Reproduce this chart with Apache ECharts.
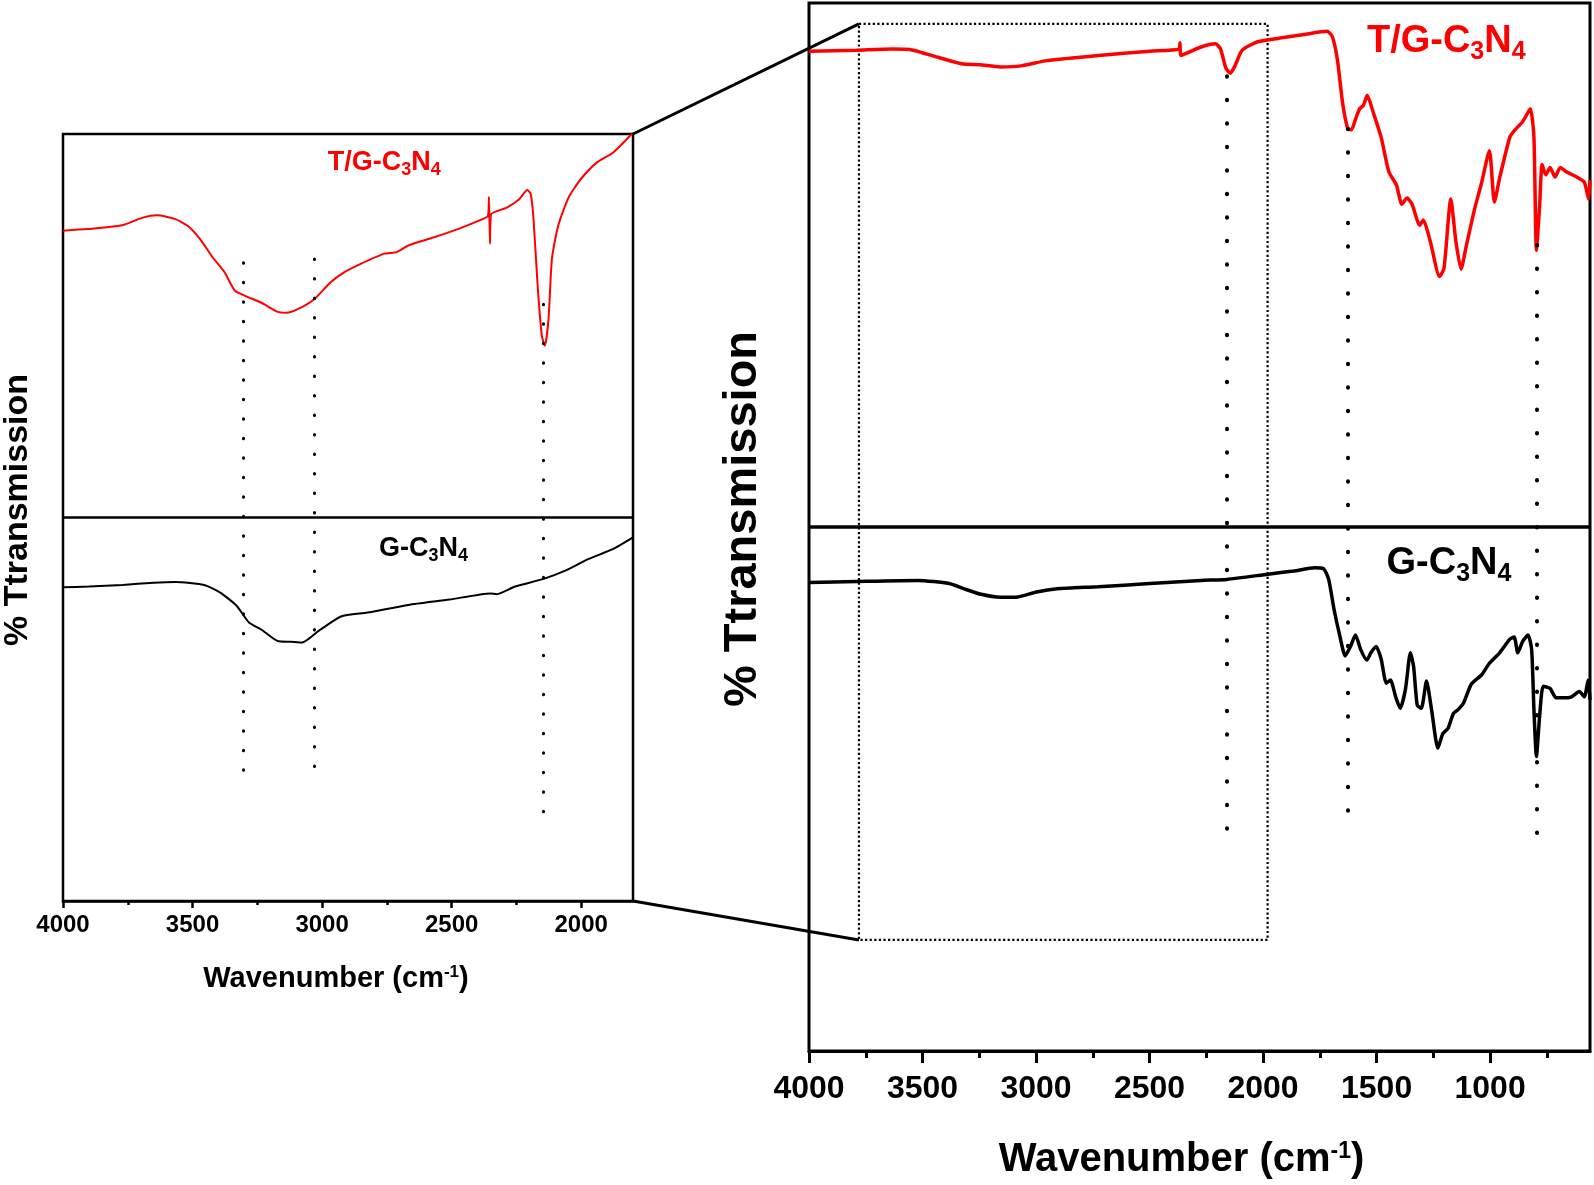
<!DOCTYPE html>
<html>
<head>
<meta charset="utf-8">
<script src="https://cdn.jsdelivr.net/npm/echarts@6/dist/echarts.min.js"></script>
<style>
  html, body { margin: 0; padding: 0; background: #fff; }
  #chart { width: 1594px; height: 1185px; }
</style>
</head>
<body>
<div id="chart"></div>
<script>
// axis ranges (cm-1)
const zoomRange = [1800, 4000]
const fullRange = [560, 4000]
const zoomTicks = [2000, 2500, 3000, 3500, 4000]
const zoomMinorTicks = [2250, 2750, 3250, 3750]
const fullTicks = [1000, 1500, 2000, 2500, 3000, 3500, 4000]
const fullMinorTicks = [750, 1250, 1750, 2250, 2750, 3250, 3750]

// left panel, T/G-C3N4 (upper half, arbitrary units)
const tgZoomWn = [4000, 3905, 3771, 3692, 3637, 3566, 3518, 3471, 3422, 3377, 3337, 3297, 3234, 3171, 3139, 3092, 3029, 2966, 2918, 2855, 2760, 2712, 2665, 2571, 2476, 2381, 2360, 2356, 2352, 2348, 2287, 2239, 2208, 2195, 2184, 2168, 2152, 2140, 2126, 2113, 2089, 2049, 2002, 1939, 1876, 1805]
const tgZoomT = [87.4, 87.6, 88.1, 89.1, 89.4, 88.9, 88.0, 86.3, 83.9, 82.0, 79.6, 78.9, 78.0, 76.8, 76.7, 77.2, 78.5, 80.7, 81.9, 83.0, 84.4, 84.6, 85.5, 86.5, 87.6, 88.9, 89.3, 91.8, 85.7, 89.5, 90.4, 91.5, 92.7, 92.2, 88.9, 80.2, 73.7, 72.4, 75.9, 83.7, 88.0, 91.7, 94.1, 96.3, 97.6, 100]

// left panel, G-C3N4 (lower half)
const gZoomWn = [4000, 3900, 3771, 3650, 3566, 3455, 3393, 3330, 3282, 3235, 3172, 3120, 3077, 3014, 2927, 2825, 2667, 2508, 2350, 2326, 2255, 2145, 2066, 1971, 1876, 1800]
const gZoomT = [40.9, 41.0, 41.2, 41.5, 41.6, 41.2, 40.2, 38.5, 36.3, 35.4, 33.9, 33.8, 33.7, 35.2, 37.1, 37.6, 38.6, 39.3, 40.1, 40.0, 41.0, 42.0, 43.0, 44.6, 45.9, 47.4]

// right panel, T/G-C3N4
const tgFullWn = [4000, 3791, 3633, 3542, 3429, 3327, 3247, 3157, 3066, 2953, 2726, 2499, 2370, 2366, 2362, 2273, 2209, 2187, 2164, 2144, 2124, 2092, 2024, 1910, 1819, 1718, 1695, 1672, 1650, 1627, 1611, 1593, 1575, 1559, 1541, 1514, 1480, 1446, 1412, 1389, 1366, 1344, 1310, 1294, 1264, 1223, 1203, 1173, 1151, 1128, 1106, 1071, 1037, 1003, 981, 958, 913, 890, 856, 823, 807, 796, 782, 771, 755, 736, 714, 691, 664, 619, 585, 566, 560]
const tgFullT = [95.4, 95.5, 95.6, 95.5, 94.8, 94.2, 94.1, 93.9, 94.0, 94.5, 95.0, 95.4, 95.6, 96.2, 95.0, 95.8, 96.1, 95.6, 93.8, 93.3, 94.0, 95.5, 96.3, 96.7, 97.0, 97.3, 96.8, 94.5, 90.5, 88.0, 87.9, 88.9, 89.9, 90.2, 91.2, 89.5, 87.2, 83.9, 82.6, 80.8, 81.4, 80.8, 78.8, 79.3, 77.3, 73.9, 74.7, 81.3, 77.3, 74.6, 76.7, 80.1, 82.9, 85.9, 81.0, 83.3, 87.2, 87.9, 88.7, 89.9, 87.2, 76.4, 80.6, 84.6, 83.6, 84.3, 83.4, 84.3, 83.9, 83.4, 82.9, 81.3, 83.1]

// right panel, G-C3N4
const gFullWn = [4000, 3791, 3519, 3383, 3316, 3247, 3157, 3089, 2998, 2907, 2726, 2499, 2273, 2160, 1978, 1865, 1774, 1733, 1711, 1688, 1665, 1638, 1615, 1593, 1570, 1543, 1525, 1502, 1480, 1457, 1439, 1416, 1396, 1373, 1351, 1337, 1321, 1303, 1280, 1258, 1230, 1208, 1185, 1162, 1140, 1117, 1083, 1037, 1003, 958, 913, 894, 878, 856, 833, 817, 807, 796, 782, 766, 736, 709, 675, 641, 607, 585, 568, 560]
const gFullT = [44.7, 44.8, 44.9, 44.6, 44.1, 43.6, 43.3, 43.3, 43.8, 44.1, 44.3, 44.6, 44.9, 45.0, 45.5, 45.8, 46.1, 46.0, 45.0, 42.2, 39.9, 37.7, 38.6, 39.7, 38.3, 37.3, 38.0, 38.6, 37.4, 35.1, 35.4, 33.8, 32.7, 34.5, 38.0, 36.7, 33.0, 32.7, 35.3, 32.6, 28.9, 30.3, 30.8, 32.2, 32.6, 33.2, 35.0, 35.9, 37.0, 38.0, 39.3, 39.5, 38.0, 39.1, 39.7, 38.3, 32.6, 28.1, 31.9, 34.8, 34.6, 33.7, 33.7, 33.8, 34.3, 33.8, 35.4, 33.5]

// dotted peak guides
const zoomPeaks = [3305, 3030, 2145]
const zoomPeakTop = [83.2, 83.7, 77.8]
const zoomPeakBottom = [16.2, 16.8, 11.0]
const fullPeaks = [2160, 1628, 795]
const fullPeakTop = [93.0, 88.0, 76.9]
const fullPeakBottom = [20.5, 21.0, 20.5]

// zoomed region marked on the full spectrum
const zoomBoxWn = [3780, 1980]
const zoomBoxT = [98.0, 10.6]

// sample labels
const labelNames = ['T/G-', 'G-']
const zoomLabelWn = [2760, 2609]
const zoomLabelT = [96.3, 45.9]
const fullLabelWn = [1193, 1181]
const fullLabelT = [96.3, 46.5]

const font = "'Liberation Sans', Arial, sans-serif"
const pair = (xs, ys) => xs.map((x, i) => [x, ys[i]])

function chemRich(size, sub, color) {
  return {
    m: { fontSize: size, fontWeight: 'bold', fontFamily: font, color, lineHeight: size, verticalAlign: 'top' },
    s: { fontSize: sub, fontWeight: 'bold', fontFamily: font, color, lineHeight: sub, verticalAlign: 'top', padding: [Math.round(size * 0.46), 0, 0, 0] },
  }
}

function titleRich(size) {
  return {
    a: { fontSize: size, fontWeight: 'bold', fontFamily: font, color: '#000', lineHeight: size, verticalAlign: 'top' },
    b: { fontSize: Math.round(size * 0.58), fontWeight: 'bold', fontFamily: font, color: '#000', lineHeight: Math.round(size * 0.58), verticalAlign: 'top' },
  }
}

function peakLines(xs, tops, bottoms, width, gap) {
  return {
    silent: true,
    symbol: 'none',
    label: { show: false },
    lineStyle: { color: '#000', width, type: [0.5, gap], cap: 'round' },
    data: xs.map((x, i) => [{ coord: [x, tops[i]] }, { coord: [x, bottoms[i]] }]),
  }
}

function divider(width) {
  return {
    silent: true,
    symbol: 'none',
    label: { show: false },
    lineStyle: { color: '#000', width, type: 'solid' },
    data: [{ yAxis: 50 }],
  }
}

function mainX(gridIndex, range, ticks, labelSize, tickLen, margin, nameSize, nameGap, nameShift, lineW) {
  return {
    type: 'value', gridIndex, min: range[0], max: range[1], inverse: true,
    axisLine: { show: true, lineStyle: { color: '#000', width: lineW } },
    axisTick: { show: true, customValues: ticks, length: tickLen, lineStyle: { color: '#000', width: lineW } },
    axisLabel: {
      customValues: ticks, formatter: (v) => String(v),
      fontSize: labelSize, fontWeight: 'bold', fontFamily: font, color: '#000', margin,
    },
    splitLine: { show: false },
    name: '{a|Wavenumber (cm}{b|-1}{a|)}',
    nameLocation: 'middle',
    nameGap,
    nameTextStyle: { rich: titleRich(nameSize), padding: [0, nameShift, 0, 0] },
  }
}

function minorX(gridIndex, range, ticks, tickLen, lineW) {
  return {
    type: 'value', gridIndex, min: range[0], max: range[1], inverse: true, position: 'bottom',
    axisLine: { show: false },
    axisTick: { show: true, customValues: ticks, length: tickLen, lineStyle: { color: '#000', width: lineW } },
    axisLabel: { show: false },
    splitLine: { show: false },
  }
}

function yAx(gridIndex, nameSize, nameGap, shift) {
  return {
    type: 'value', gridIndex, min: 0, max: 100,
    axisLine: { show: false }, axisTick: { show: false }, axisLabel: { show: false }, splitLine: { show: false },
    name: '% Ttransmission', nameLocation: 'middle', nameGap,
    nameTextStyle: { fontSize: nameSize, fontWeight: 'bold', fontFamily: font, color: '#000', padding: [0, 0, 0, shift] },
  }
}

function labelSeries(xAxisIndex, yAxisIndex, wn, t, size, sub) {
  return {
    type: 'scatter', xAxisIndex, yAxisIndex, symbolSize: 1, silent: true,
    itemStyle: { color: 'transparent', opacity: 1 },
    data: pair(wn, t).map((p, i) => {
      const color = i === 0 ? '#ff0000' : '#000'
      return {
        value: p,
        label: {
          show: true, position: 'inside', color, textBorderWidth: 0,
          formatter: `{m|${labelNames[i]}C}{s|3}{m|N}{s|4}`,
          rich: chemRich(size, sub, color),
        },
      }
    }),
  }
}

const chart = echarts.init(document.getElementById('chart'))

chart.setOption({
  backgroundColor: '#fff',
  animation: false,
  grid: [
    { left: 62, top: 134, width: 571, height: 767, show: true, borderColor: '#000', borderWidth: 2.5, backgroundColor: 'transparent' },
    { left: 809, top: 3, width: 781, height: 1049, show: true, borderColor: '#000', borderWidth: 3, backgroundColor: 'transparent' },
  ],
  xAxis: [
    mainX(0, zoomRange, zoomTicks, 24, 7, 12, 29, 63, 24, 2.5),
    minorX(0, zoomRange, zoomMinorTicks, 4, 2.5),
    mainX(1, fullRange, fullTicks, 32, 12, 22, 40, 89, 36, 3),
    minorX(1, fullRange, fullMinorTicks, 7, 3),
  ],
  yAxis: [yAx(0, 34, 28, 15), yAx(1, 47, 42, 16)],
  series: [
    {
      name: 'T/G-C3N4 zoom', type: 'line', xAxisIndex: 0, yAxisIndex: 0,
      data: pair(tgZoomWn, tgZoomT), showSymbol: false, smooth: 0.2,
      lineStyle: { color: '#ff0000', width: 2 },
      markLine: divider(2.5),
    },
    {
      name: 'G-C3N4 zoom', type: 'line', xAxisIndex: 0, yAxisIndex: 0,
      data: pair(gZoomWn, gZoomT), showSymbol: false, smooth: 0.2,
      lineStyle: { color: '#000', width: 2 },
      markLine: peakLines(zoomPeaks, zoomPeakTop, zoomPeakBottom, 3, 19),
    },
    {
      name: 'T/G-C3N4', type: 'line', xAxisIndex: 2, yAxisIndex: 1,
      data: pair(tgFullWn, tgFullT), showSymbol: false, smooth: 0.2,
      lineStyle: { color: '#ff0000', width: 3.5 },
      markLine: divider(3.5),
      markArea: {
        silent: true,
        itemStyle: { color: 'transparent', borderColor: '#000', borderWidth: 2.2, borderType: [2.2, 2.4] },
        data: [[{ coord: [zoomBoxWn[0], zoomBoxT[0]] }, { coord: [zoomBoxWn[1], zoomBoxT[1]] }]],
      },
    },
    {
      name: 'G-C3N4', type: 'line', xAxisIndex: 2, yAxisIndex: 1,
      data: pair(gFullWn, gFullT), showSymbol: false, smooth: 0.2,
      lineStyle: { color: '#000', width: 3.5 },
      markLine: peakLines(fullPeaks, fullPeakTop, fullPeakBottom, 4, 23),
    },
    labelSeries(0, 0, zoomLabelWn, zoomLabelT, 27, 18),
    labelSeries(2, 1, fullLabelWn, fullLabelT, 38, 25),
  ],
})

// lines joining the zoomed panel to the marked region
const toPx = (x, y, pt) => chart.convertToPixel({ xAxisIndex: x, yAxisIndex: y }, pt)
const a1 = toPx(0, 0, [zoomRange[0], 100])
const a2 = toPx(0, 0, [zoomRange[0], 0])
const b1 = toPx(2, 1, [zoomBoxWn[0], zoomBoxT[0]])
const b2 = toPx(2, 1, [zoomBoxWn[0], zoomBoxT[1]])

chart.setOption({
  graphic: [
    { type: 'line', shape: { x1: a1[0], y1: a1[1], x2: b1[0], y2: b1[1] }, style: { stroke: '#000', lineWidth: 3 }, z: 100 },
    { type: 'line', shape: { x1: a2[0], y1: a2[1], x2: b2[0], y2: b2[1] }, style: { stroke: '#000', lineWidth: 3 }, z: 100 },
  ],
})
</script>
</body>
</html>
